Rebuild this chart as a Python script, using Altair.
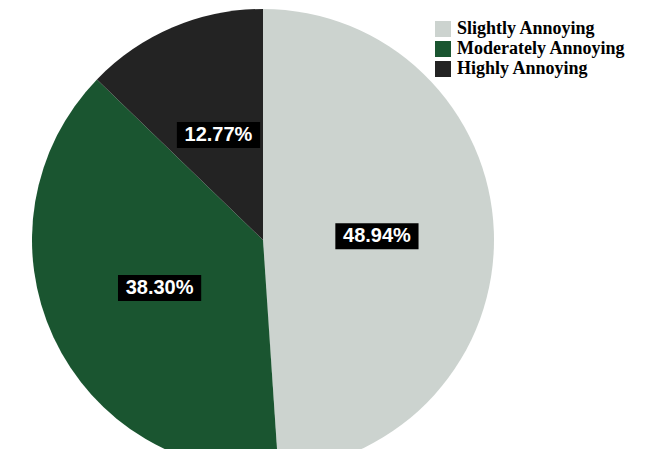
import altair as alt
import pandas as pd

categories = ["Slightly Annoying", "Moderately Annoying", "Highly Annoying"]
shares = [48.94, 38.30, 12.77]
labels = ["48.94%", "38.30%", "12.77%"]
order_idx = [0, 1, 2]
colors = ["#ccd3cf", "#1a5530", "#232323"]

df = pd.DataFrame({"category": categories, "share": shares, "label": labels, "idx": order_idx})

CX, CY, R, LR = 255, 232, 231, 114

base = alt.Chart(df)

pie = base.mark_arc(radius=R).encode(
    theta=alt.Theta("share:Q", stack=True),
    order=alt.Order("idx:Q"),
    color=alt.Color(
        "category:N",
        scale=alt.Scale(domain=categories, range=colors),
        legend=alt.Legend(
            orient="none", legendX=426, legendY=12, title=None,
            labelFont="Liberation Serif", labelFontWeight="bold", labelFontSize=18,
            labelColor="black", labelLimit=0, symbolType="square", symbolSize=256,
            symbolStrokeWidth=0, symbolOpacity=1, rowPadding=2, labelOffset=5, padding=0,
        ),
    ),
    x=alt.value(CX),
    y=alt.value(CY),
)

lab = base.transform_joinaggregate(total="sum(share)").transform_window(
    cum="sum(share)", sort=[alt.SortField("idx")], frame=[None, 0]
).transform_calculate(
    mid="(datum.cum - datum.share/2)/datum.total*2*PI",
    lx=f"{CX} + {LR}*sin(datum.mid)",
    ly=f"{CY} - {LR}*cos(datum.mid)",
)

box = lab.mark_point(
    shape="M-1.6,-0.5L1.6,-0.5L1.6,0.5L-1.6,0.5Z", size=2704,
    filled=True, color="black", opacity=1, strokeWidth=0,
).encode(
    x=alt.X("lx:Q", scale=None, axis=None),
    y=alt.Y("ly:Q", scale=None, axis=None),
)

txt = lab.mark_text(
    font="Liberation Sans", fontWeight="bold", fontSize=20, color="white",
    align="center", baseline="middle",
).encode(
    x=alt.X("lx:Q", scale=None, axis=None),
    y=alt.Y("ly:Q", scale=None, axis=None),
    text="label:N",
)

chart = alt.layer(pie, box, txt).properties(
    width=629, height=441, padding=0,
    autosize=alt.AutoSizeParams(type="none"),
).configure_view(stroke=None)

chart.save("out.html", embed_options={"renderer": "svg", "actions": False})
